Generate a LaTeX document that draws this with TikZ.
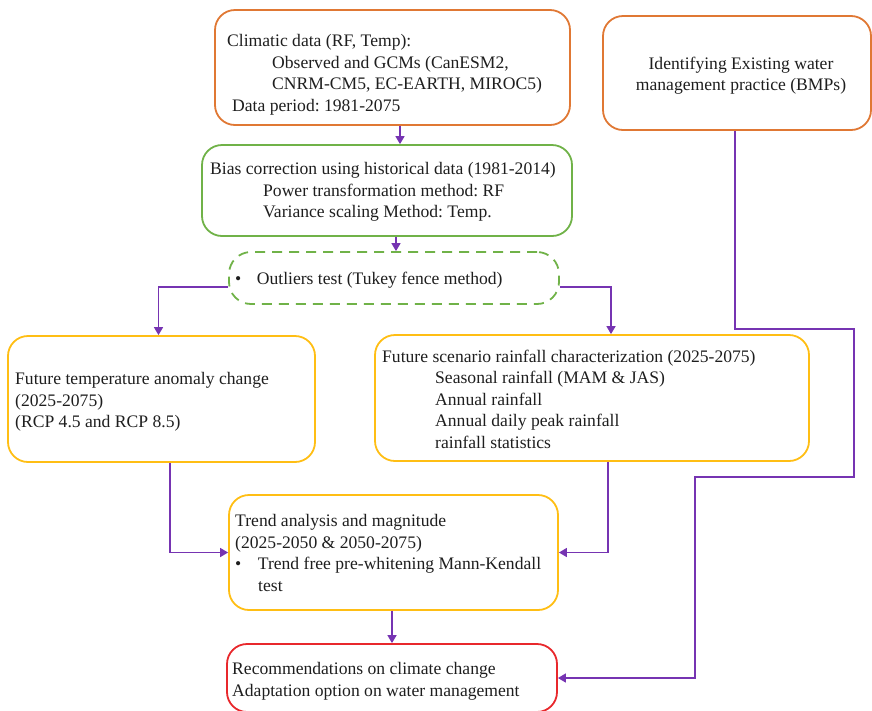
\documentclass[tikz,border=0pt]{standalone}
\usepackage{fontspec}
\setmainfont{Liberation Serif}
\usetikzlibrary{arrows.meta}
\definecolor{cOrange}{RGB}{224,120,52}
\definecolor{cGreen}{RGB}{112,178,72}
\definecolor{cYellow}{RGB}{255,190,20}
\definecolor{cRed}{RGB}{232,40,44}
\definecolor{cPurple}{RGB}{118,52,178}
\definecolor{cText}{RGB}{30,30,30}
\tikzset{
  box/.style={draw, line width=1.8pt, rounded corners=20pt, inner sep=0pt},
  txt/.style={inner sep=0pt, anchor=north west, align=left, text=cText,
    font=\fontsize{17.6}{21.5}\selectfont},
  arr/.style={draw=cPurple, line width=1.6pt,
    -{Triangle[length=8pt,width=9pt]}},
}
\begin{document}
\frenchspacing
\begin{tikzpicture}[x=1pt,y=-1pt]
\useasboundingbox (0,0) rectangle (872,710);

% boxes
\node[box, draw=cOrange, minimum width=355pt, minimum height=115pt] (box1) at (392.5,67.5) {};
\node[box, draw=cOrange, minimum width=268pt, minimum height=114pt] (box8) at (737,73) {};
\node[box, draw=cGreen, minimum width=370pt, minimum height=91pt] (box2) at (387,190.5) {};
\node[box, draw=cGreen, dash pattern=on 10pt off 7pt, rounded corners=22pt,
  minimum width=330pt, minimum height=52pt] (box3) at (394,278) {};
\node[box, draw=cYellow, minimum width=307pt, minimum height=126pt] (box4) at (161.5,399) {};
\node[box, draw=cYellow, minimum width=434pt, minimum height=126pt] (box5) at (592,398) {};
\node[box, draw=cYellow, minimum width=329pt, minimum height=115pt] (box6) at (393.5,552.5) {};
\node[box, draw=cRed, minimum width=330pt, minimum height=68pt] (box7) at (392,678) {};

% texts
\node[txt] (t1) at (227,34.5)
  {Climatic data (RF, Temp):\\
   \hspace*{45pt}Observed and GCMs (CanESM2,\\
   \hspace*{45pt}CNRM-CM5, EC-EARTH, MIROC5)\\
   \hspace*{5pt}Data period: 1981-2075};
\node[txt, anchor=north, align=center] (t8) at (741,56.5)
  {Identifying Existing water\\management practice (BMPs)};
\node[txt] (t2) at (210,162.5)
  {Bias correction using historical data (1981-2014)\\
   \hspace*{53pt}Power transformation method: RF\\
   \hspace*{53pt}Variance scaling Method: Temp.};
\node[txt] (t3) at (235,272)
  {\textbullet\hspace*{15.5pt}Outliers test (Tukey fence method)};
\node[txt] (t4) at (15,372.5)
  {Future temperature anomaly change\\
   (2025-2075)\\
   (RCP 4.5 and RCP 8.5)};
\node[txt] (t5) at (382,349.5)
  {Future scenario rainfall characterization (2025-2075)\\
   \hspace*{53pt}Seasonal rainfall (MAM \& JAS)\\
   \hspace*{53pt}Annual rainfall\\
   \hspace*{53pt}Annual daily peak rainfall\\
   \hspace*{53pt}rainfall statistics};
\node[txt] (t6) at (235,514.5)
  {Trend analysis and magnitude\\
   (2025-2050 \& 2050-2075)\\
   \textbullet\hspace*{16.5pt}Trend free pre-whitening Mann-Kendall\\
   \hspace*{23pt}test};
\node[txt] (t7) at (232,662.5)
  {Recommendations on climate change\\
   Adaptation option on water management};

% connectors
\draw[arr] ([xshift=7.5pt]box1.south) -- ([xshift=7.5pt]box1.south |- box2.north);
\draw[arr] ([xshift=2pt]box3.north |- box2.south) -- ([xshift=2pt]box3.north);
\draw[arr] ([yshift=-9pt]box3.west) -| ([xshift=-3pt]box4.north);
\draw[arr] ([yshift=-9pt]box3.east) -| ([xshift=19pt]box5.north);
\draw[arr] ([xshift=8.5pt]box4.south) |- (box6.west);
\draw[arr] ([xshift=16pt]box5.south) |- (box6.east);
\draw[arr] ([xshift=-1.5pt]box6.south) -- ([xshift=-1.5pt]box6.south |- box7.north);

\coordinate (c1) at (854,329);
\coordinate (c2) at (695,477);
\draw[arr] ([xshift=-2pt]box8.south) |- (c1) |- (c2) |- (box7.east);
\end{tikzpicture}
\end{document}
